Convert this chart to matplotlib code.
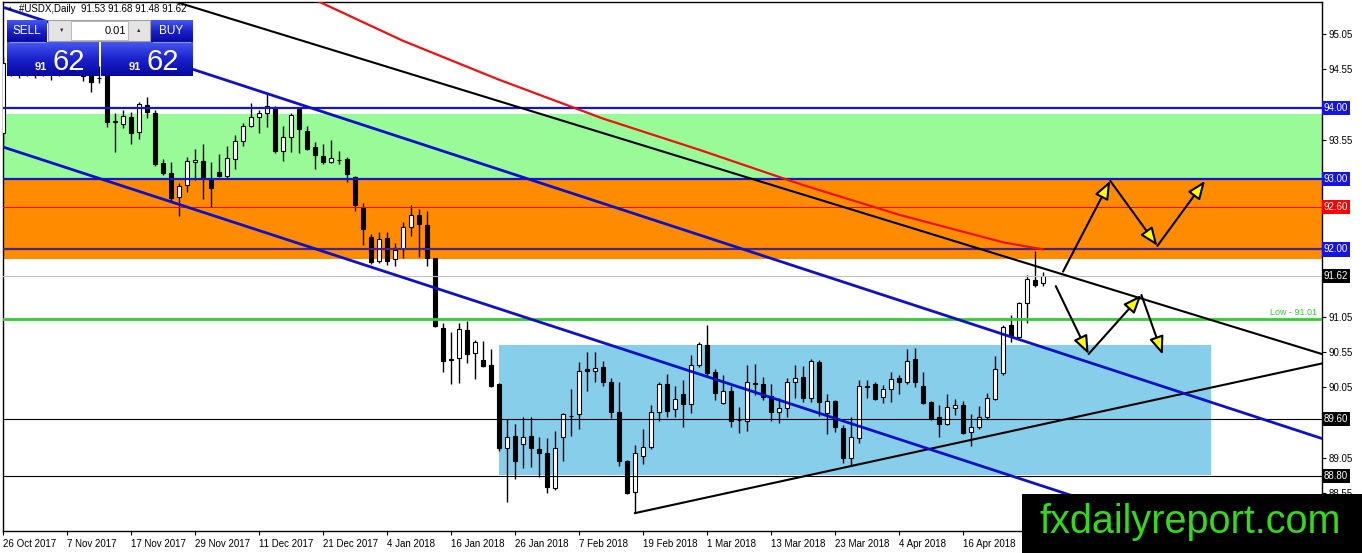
import matplotlib.pyplot as plt
import numpy as np
from matplotlib.patches import Rectangle, FancyArrowPatch
from matplotlib.colors import LinearSegmentedColormap

plt.rcParams['font.family'] = ['Liberation Sans', 'DejaVu Sans']

# USDX daily bars, 26 Oct 2017 .. 27 Apr 2018 (index = bar number)
opens = [93.65, 94.65, 94.80, 94.55, 94.70, 94.50, 94.62, 94.48, 94.66, 94.74,
         94.56, 94.55, 94.42, 94.55, 93.80, 93.77, 93.87, 93.66, 94.04, 93.93,
         93.22, 93.08, 92.74, 92.91, 93.24, 93.25, 93.00, 93.09, 93.04, 93.28,
         93.53, 93.75, 93.87, 93.93, 94.01, 93.39, 93.59, 93.99, 93.67, 93.45,
         93.32, 93.24, 93.27, 93.28, 93.02, 92.60, 92.18, 91.84, 92.16, 91.86,
         92.01, 92.32, 92.49, 92.35, 91.88, 90.89, 90.45, 90.46, 90.86, 90.53,
         90.44, 90.36, 90.10, 89.19, 89.36, 89.25, 89.36, 89.18, 89.12, 88.63,
         89.35, 89.64, 89.67, 90.31, 90.28, 90.34, 90.12, 89.70, 89.01, 88.57,
         89.08, 89.21, 89.70, 90.10, 89.74, 89.95, 89.81, 90.36, 90.65, 90.27,
         89.83, 90.00, 89.58, 89.57, 90.11, 90.10, 89.93, 89.70, 89.76, 90.12,
         90.20, 89.90, 90.41, 89.69, 89.86, 89.47, 89.05, 89.33, 90.07, 90.10,
         89.91, 90.03, 90.18, 90.12, 90.45, 90.07, 89.84, 89.63, 89.53, 89.76,
         89.80, 89.42, 89.49, 89.63, 89.88, 90.25, 90.93, 90.76, 91.24, 91.57,
         91.53]
highs = [94.72, 94.95, 94.90, 94.75, 94.85, 94.70, 94.80, 94.72, 94.86, 94.92,
         94.70, 94.70, 94.60, 94.65, 93.93, 93.97, 93.95, 94.08, 94.16, 93.97,
         93.28, 93.24, 92.94, 93.31, 93.42, 93.49, 93.24, 93.35, 93.46, 93.62,
         93.79, 94.07, 93.97, 94.20, 94.03, 93.75, 93.93, 94.01, 93.75, 93.52,
         93.49, 93.55, 93.39, 93.30, 93.04, 92.66, 92.22, 92.25, 92.25, 92.09,
         92.39, 92.63, 92.57, 92.54, 91.88, 90.96, 90.83, 90.96, 90.99, 90.72,
         90.70, 90.59, 90.11, 89.60, 89.53, 89.63, 89.63, 89.35, 89.33, 89.43,
         89.69, 90.03, 90.41, 90.55, 90.55, 90.42, 90.18, 90.12, 89.02, 89.23,
         89.46, 89.80, 90.12, 90.24, 90.07, 90.15, 90.51, 90.69, 90.93, 90.31,
         90.22, 90.07, 89.77, 90.36, 90.38, 90.20, 90.10, 89.90, 90.18, 90.36,
         90.35, 90.45, 90.44, 89.95, 89.87, 89.52, 89.63, 90.15, 90.15, 90.13,
         90.08, 90.27, 90.22, 90.59, 90.61, 90.27, 89.86, 89.80, 89.95, 89.88,
         89.86, 89.67, 89.79, 89.97, 90.49, 90.93, 91.07, 91.25, 91.64, 91.98,
         91.68]
lows = [93.45, 94.45, 94.42, 94.45, 94.42, 94.45, 94.40, 94.45, 94.50, 94.48,
        94.38, 94.23, 94.36, 93.73, 93.38, 93.72, 93.49, 93.56, 93.86, 93.18,
        93.05, 92.68, 92.47, 92.81, 92.98, 92.71, 92.60, 93.02, 93.01, 93.14,
        93.46, 93.73, 93.65, 93.73, 93.36, 93.25, 93.38, 93.36, 93.41, 93.14,
        93.21, 93.22, 93.21, 92.95, 92.54, 92.06, 91.80, 91.81, 91.78, 91.77,
        91.88, 92.19, 91.89, 91.77, 90.90, 90.27, 90.10, 90.11, 90.39, 90.17,
        90.34, 90.05, 89.15, 88.43, 88.75, 88.91, 88.92, 88.78, 88.55, 88.60,
        89.01, 89.36, 89.46, 90.00, 90.12, 90.07, 89.62, 88.94, 88.54, 88.27,
        88.96, 89.18, 89.57, 89.63, 89.63, 89.49, 89.69, 90.34, 90.20, 89.87,
        89.81, 89.49, 89.40, 89.43, 89.94, 89.87, 89.57, 89.54, 89.63, 89.90,
        89.84, 89.84, 89.64, 89.39, 89.42, 88.98, 88.95, 89.26, 89.90, 89.87,
        89.83, 89.84, 89.95, 90.10, 90.05, 89.81, 89.58, 89.35, 89.52, 89.66,
        89.39, 89.22, 89.46, 89.60, 89.87, 90.22, 90.69, 90.75, 90.96, 91.47,
        91.48]
closes = [94.64, 94.80, 94.55, 94.70, 94.50, 94.62, 94.48, 94.66, 94.74, 94.56,
          94.45, 94.37, 94.42, 93.80, 93.81, 93.89, 93.65, 94.06, 93.94, 93.21,
          93.08, 92.73, 92.90, 93.25, 93.26, 93.01, 92.87, 93.04, 93.29, 93.53,
          93.75, 93.87, 93.93, 94.03, 93.39, 93.59, 93.90, 93.70, 93.42, 93.34,
          93.24, 93.29, 93.26, 93.07, 92.63, 92.29, 91.82, 92.15, 91.84, 91.99,
          92.32, 92.49, 92.36, 91.88, 90.92, 90.42, 90.44, 90.87, 90.52, 90.69,
          90.35, 90.07, 89.19, 89.35, 89.01, 89.35, 89.19, 89.12, 88.64, 89.19,
          89.67, 89.65, 90.28, 90.28, 90.32, 90.12, 89.70, 89.01, 88.55, 89.12,
          89.21, 89.70, 90.10, 89.71, 89.88, 89.81, 90.36, 90.66, 90.25, 89.97,
          90.00, 89.57, 89.59, 90.12, 90.10, 89.91, 89.70, 89.76, 90.12, 90.18,
          89.90, 90.42, 89.84, 89.86, 89.49, 89.05, 89.35, 90.07, 90.06, 89.88,
          90.03, 90.17, 90.12, 90.42, 90.12, 89.83, 89.60, 89.53, 89.77, 89.80,
          89.40, 89.49, 89.63, 89.90, 90.31, 90.90, 90.78, 91.24, 91.58, 91.50,
          91.62]

# red moving average (bar, value)
ma_bars = [39, 50, 62, 75, 87, 100, 112, 125, 130]
ma_vals = [95.53, 94.95, 94.40, 93.85, 93.41, 92.91, 92.49, 92.10, 92.00]

date_labels = ['26 Oct 2017', '7 Nov 2017', '17 Nov 2017', '29 Nov 2017', '11 Dec 2017',
               '21 Dec 2017', '4 Jan 2018', '16 Jan 2018', '26 Jan 2018', '7 Feb 2018',
               '19 Feb 2018', '1 Mar 2018', '13 Mar 2018', '23 Mar 2018', '4 Apr 2018',
               '16 Apr 2018']
price_ticks = [88.55, 89.05, 89.55, 90.05, 90.55, 91.05, 91.55, 92.05, 92.55,
               93.05, 93.55, 94.05, 94.55, 95.05]
# tick labels hidden behind the level boxes on the price scale
covered_ticks = [89.55, 91.55, 92.05, 92.55, 93.05, 94.05]

# horizontal levels: value, line colour, width, label box colour
levels = [(94.00, '#1414d2', 1.6, '#1414e6'),
          (93.00, '#1414d2', 1.6, '#1414e6'),
          (92.60, '#ff0000', 0.7, '#ff0000'),
          (92.00, '#47238e', 1.6, '#1414e6'),
          (91.62, '#c0c0c0', 0.8, '#000000'),
          (89.60, '#000000', 0.8, '#000000'),
          (88.80, '#000000', 0.8, '#000000')]
low_level = 91.01

# zones: (x0, x1, y0, y1)
green_zone = (0, 165, 93.00, 93.91)
orange_zone = (0, 165, 91.86, 93.00)
blue_zone = (62, 151, 88.81, 90.65)

# trend lines through two points (bar, price)
black_down = [(124.6, 91.92), (157.1, 90.79)]
black_up = [(79, 88.27), (165, 90.39)]
blue_upper = [(24, 94.537), (135.9, 90.397)]
blue_lower = [(-0.4, 93.463), (128.4, 88.71)]

# scenario arrows (bar, price)
path_up = [(132.5, 91.685), (138.4, 92.97), (144.3, 92.05), (150.25, 92.97)]
path_down = [(131.6, 91.48), (135.7, 90.52), (142.3, 91.355), (144.96, 90.51)]

W, H = 1362, 553
fig = plt.figure(figsize=(W / 100, H / 100), dpi=100)
fig.patch.set_facecolor('white')
ax = fig.add_axes([3 / W, (H - 531) / H, (1322 - 3) / W, (531 - 2) / H])
ax.set_xlim(0, 164.875)
ax.set_ylim(88.017, 95.499)

for (x0, x1, y0, y1), c in [(green_zone, '#98fb98'), (orange_zone, '#ff8c00'),
                            (blue_zone, '#87ceeb')]:
    ax.add_patch(Rectangle((x0, y0), x1 - x0, y1 - y0, color=c, lw=0, zorder=0.5))

x = np.arange(len(opens))
o = np.array(opens); c = np.array(closes)
ax.vlines(x, lows, highs, color='black', lw=1, zorder=2)
up = c >= o
ax.bar(x[up], (c - o)[up], bottom=o[up], width=0.62, color='white',
       edgecolor='black', lw=0.8, zorder=3)
ax.bar(x[~up], (o - c)[~up], bottom=c[~up], width=0.62, color='black',
       edgecolor='black', lw=0.8, zorder=3)

for val, col, lw, _ in levels:
    ax.axhline(val, color=col, lw=lw, zorder=4)
ax.axhline(low_level, color='#32cd32', lw=2, zorder=4)
ax.text(0.996, low_level + 0.03, 'Low - 91.01', color='#32cd32', fontsize=6.5,
        ha='right', va='bottom', transform=ax.get_yaxis_transform(), zorder=5)

ax.axline(*black_down, color='black', lw=1.5, zorder=5)
ax.plot(*zip(*black_up), color='black', lw=1.5, zorder=5)
ax.axline(*blue_upper, color='#1010c8', lw=2, zorder=5)
ax.axline(*blue_lower, color='#1010c8', lw=2, zorder=5)
ax.plot(ma_bars, ma_vals, color='#ee1111', lw=1.6, zorder=5)

for path in (path_up, path_down):
    for a, b in zip(path[:-1], path[1:]):
        ax.add_patch(FancyArrowPatch(a, b, arrowstyle='-|>,head_length=0.55,head_width=0.22',
                                     mutation_scale=20, fc='#ffff00', ec='black', lw=1.5,
                                     shrinkA=0, shrinkB=0, zorder=6))

ax.set_xticks(np.arange(0, 121, 8))
ax.set_xticklabels(date_labels, ha='left')
ax.yaxis.tick_right()
ax.set_yticks(price_ticks)
ax.set_yticklabels(['' if v in covered_ticks else '%.2f' % v for v in price_ticks])
ax.tick_params(axis='both', direction='out', length=3, labelsize=7, pad=2, width=0.8)
ax.tick_params(axis='x', pad=3)
for s in ax.spines.values():
    s.set_linewidth(1)

for val, col, lw, box in levels:
    ax.text(1.0015, val, '%.2f' % val, transform=ax.get_yaxis_transform(), color='white',
            fontsize=7, ha='left', va='center', clip_on=False, zorder=10,
            bbox=dict(boxstyle='square,pad=0.22', fc=box, ec='none'))

# overlay in pixel coordinates: trade panel, title, watermark
ov = fig.add_axes([0, 0, 1, 1], zorder=10)
ov.patch.set_alpha(0)
ov.axis('off')
cmap = LinearSegmentedColormap.from_list('btn', ['#4656f0', '#1a22cc', '#0808a0'])
grad = np.linspace(0, 1, 64).reshape(-1, 1)


def gbox(x0, y0, x1, y1):
    ov.imshow(grad, extent=(x0, x1, y1, y0), aspect='auto', cmap=cmap, zorder=1)


gbox(7, 20, 47, 42)
gbox(150, 20, 193, 42)
gbox(7, 42, 99, 76)
gbox(101, 42, 193, 76)
ov.add_patch(Rectangle((48, 20), 102, 21, fc='#e4e4e4', ec='#a0a0a0', lw=0.8, zorder=2))
ov.add_patch(Rectangle((71, 21), 57, 19, fc='white', ec='#b0b0b0', lw=0.6, zorder=3))
ov.plot([10, 45], [41.5, 41.5], color='#8a96ff', lw=0.8, zorder=3)
ov.plot([153, 190], [41.5, 41.5], color='#8a96ff', lw=0.8, zorder=3)
ov.text(62, 30, '\u25bc', fontsize=4, ha='center', va='center', color='#333333', zorder=4)
ov.text(139, 30, '\u25b2', fontsize=4, ha='center', va='center', color='#333333', zorder=4)
ov.text(126, 30.5, '0.01', fontsize=8, ha='right', va='center', color='black', zorder=4)
ov.text(27, 31, 'SELL', fontsize=8.5, ha='center', va='center', color='white', zorder=4)
ov.text(171, 31, 'BUY', fontsize=8.5, ha='center', va='center', color='white', zorder=4)
for x0 in (7, 101):
    ov.text(x0 + 40, 70, '91', fontsize=8, fontweight='bold', ha='right', va='baseline',
            color='white', zorder=4)
    ov.text(x0 + 46, 70, '62', fontsize=21, ha='left', va='baseline', color='white', zorder=4)

ov.text(10, 9, '\u25b2', fontsize=4.5, ha='center', va='center', color='black')
ov.text(19, 9, '#USDX,Daily  91.53 91.68 91.48 91.62', fontsize=7, ha='left',
        va='center', color='black')

ov.add_patch(Rectangle((1022, 494), 340, 59, fc='black', ec='none', zorder=5))
ov.text(1190, 522, 'fxdailyreport.com', fontsize=28.5, color='#36d81c', ha='center',
        va='center', zorder=6)
ov.set_xlim(0, W)
ov.set_ylim(H, 0)

fig.savefig('out.png', dpi=100)
